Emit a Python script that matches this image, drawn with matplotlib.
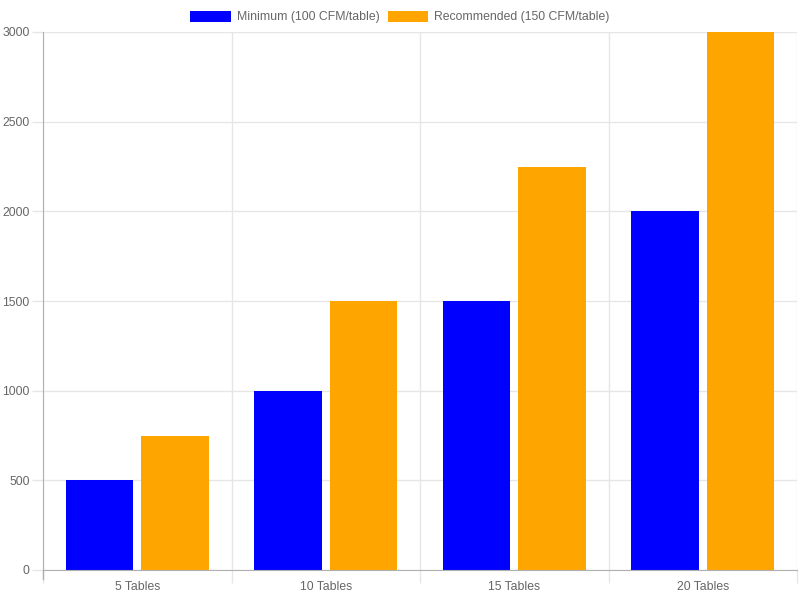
import matplotlib.pyplot as plt
import numpy as np

categories = ["5 Tables", "10 Tables", "15 Tables", "20 Tables"]
minimum_cfm = [500, 1000, 1500, 2000]
recommended_cfm = [750, 1500, 2250, 3000]
series_labels = ["Minimum (100 CFM/table)", "Recommended (150 CFM/table)"]
y_ticks = [0, 500, 1000, 1500, 2000, 2500, 3000]

text_color = "#666666"
grid_color = "#e6e6e6"
axis_color = "#b0b0b0"

plt.rcParams['font.family'] = ['Liberation Sans', 'DejaVu Sans']
fs = 8.8

fig = plt.figure(figsize=(8, 6), dpi=100)
ax = fig.add_axes([43/800, 30/600, 754/800, 538/600])

x = np.arange(len(categories))
bar_w = 0.36
ax.bar(x - 0.2, minimum_cfm, width=bar_w, color="#0000ff", label=series_labels[0], zorder=3)
ax.bar(x + 0.2, recommended_cfm, width=bar_w, color="#ffa500", label=series_labels[1], zorder=3)

ax.set_xlim(-0.5, len(categories) - 0.5)
ax.set_ylim(0, 3000)

ax.set_xticks(x)
ax.set_xticklabels(categories)
ax.set_xticks(np.arange(len(categories) + 1) - 0.5, minor=True)
ax.tick_params(axis='x', which='major', length=0, pad=8, labelsize=fs, labelcolor=text_color)
ax.tick_params(axis='x', which='minor', length=9, color=grid_color, width=1)
ax.grid(axis='x', which='minor', color=grid_color, linewidth=1, zorder=0)

ax.set_yticks(y_ticks)
ax.tick_params(axis='y', length=8, color=grid_color, width=1, pad=1.5, labelsize=fs, labelcolor=text_color)
ax.grid(axis='y', which='major', color=grid_color, linewidth=1, zorder=0)

for side in ['top', 'right']:
    ax.spines[side].set_visible(False)
ax.spines['left'].set_color(axis_color)
ax.spines['bottom'].set_color(axis_color)
ax.spines['left'].set_zorder(4)
ax.spines['bottom'].set_zorder(4)
# left edge tick below the axis in axis color
ax.plot([-0.5, -0.5], [0, -9/538], transform=ax.get_xaxis_transform(), color=axis_color, lw=1, clip_on=False, zorder=5)

leg = fig.legend(loc='center', bbox_to_anchor=(0.5, 1 - 17/600), ncol=2, frameon=False,
                 fontsize=fs, handlelength=3.3, handleheight=1.0, handletextpad=0.5,
                 columnspacing=0.7, borderpad=0)
for t in leg.get_texts():
    t.set_color(text_color)

fig.savefig("out.png", dpi=100)
